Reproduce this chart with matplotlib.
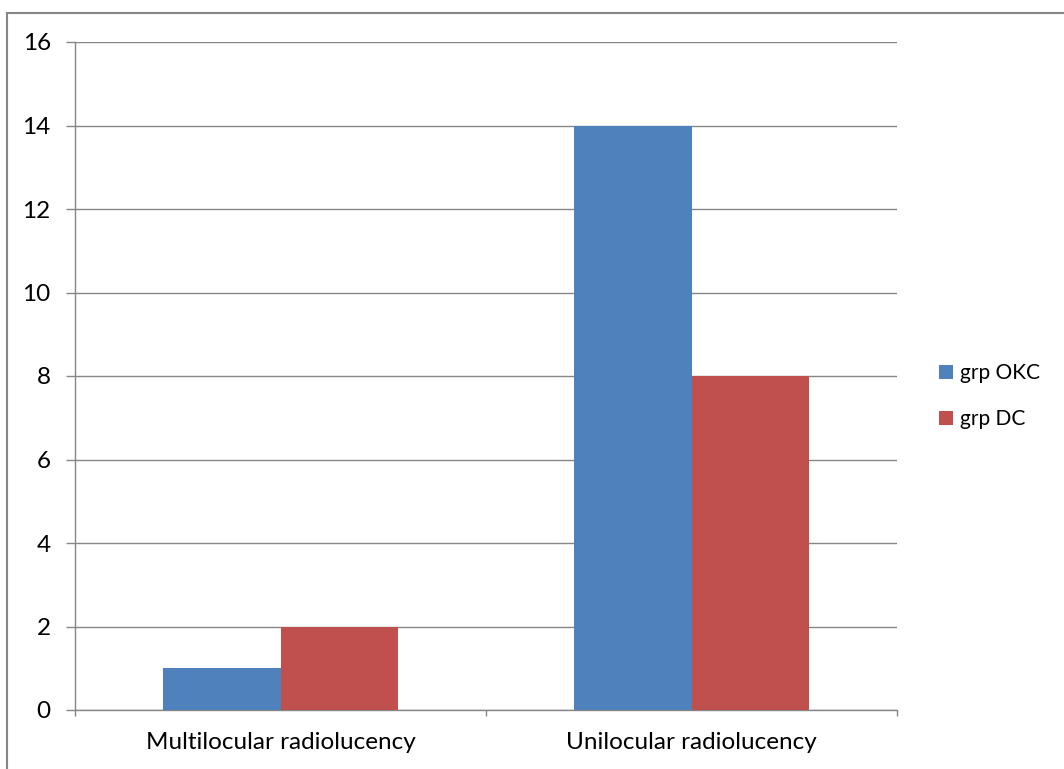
import numpy as np
import matplotlib.pyplot as plt
from matplotlib.patches import Patch
from matplotlib.lines import Line2D

# Lesion appearance counts per group
categories = ["Multilocular radiolucency", "Unilocular radiolucency"]
series_names = ["grp OKC", "grp DC"]
grp_okc = [1, 14]
grp_dc = [2, 8]
yticks = [0, 2, 4, 6, 8, 10, 12, 14, 16]

blue = '#4F81BD'
red = '#C0504D'
grey = '#868686'

plt.rcParams['font.family'] = ['Lato', 'DejaVu Sans']

W, H = 1064, 769
fig = plt.figure(figsize=(W / 100, H / 100), dpi=100)
ax = fig.add_axes([75 / W, 59 / H, 822 / W, 668 / H])

x = np.arange(len(categories))
width = 0.285
ax.bar(x - width / 2, grp_okc, width, color=blue, zorder=3)
ax.bar(x + width / 2, grp_dc, width, color=red, zorder=3)

ax.set_xlim(-0.5, 1.5)
ax.set_ylim(0, 16)
ax.set_yticks(yticks)
ax.yaxis.grid(True, color=grey, linewidth=1.0)
ax.set_axisbelow(True)

for side in ['top', 'right']:
    ax.spines[side].set_visible(False)
for side in ['left', 'bottom']:
    ax.spines[side].set_color(grey)
    ax.spines[side].set_linewidth(1.0)

# tick marks sit on the category boundaries, labels in the middle
ax.set_xticks([-0.5, 0.5, 1.5])
ax.set_xticklabels([])
ax.set_xticks(x, minor=True)
ax.set_xticklabels(categories, minor=True)
ax.tick_params(axis='x', which='major', length=4.5, color=grey, width=1.0)
ax.tick_params(axis='x', which='minor', length=0, pad=16, labelsize=17.5)
ax.tick_params(axis='y', length=6.5, color=grey, width=1.0, pad=11, labelsize=17.5)

# outer chart frame
fig.add_artist(Line2D([7 / W, 1], [1 - 13 / H, 1 - 13 / H], color=grey, lw=1.5,
                      transform=fig.transFigure))
fig.add_artist(Line2D([7 / W, 7 / W], [0, 1 - 13 / H], color=grey, lw=1.5,
                      transform=fig.transFigure))

handles = [Patch(facecolor=blue), Patch(facecolor=red)]
fig.legend(handles, series_names, loc='center left',
           bbox_to_anchor=(939 / W, 1 - 396 / H), frameon=False,
           fontsize=15, handlelength=0.67, handleheight=0.67,
           handletextpad=0.35, labelspacing=1.25, borderpad=0, borderaxespad=0)

fig.savefig('out.png', dpi=100)
